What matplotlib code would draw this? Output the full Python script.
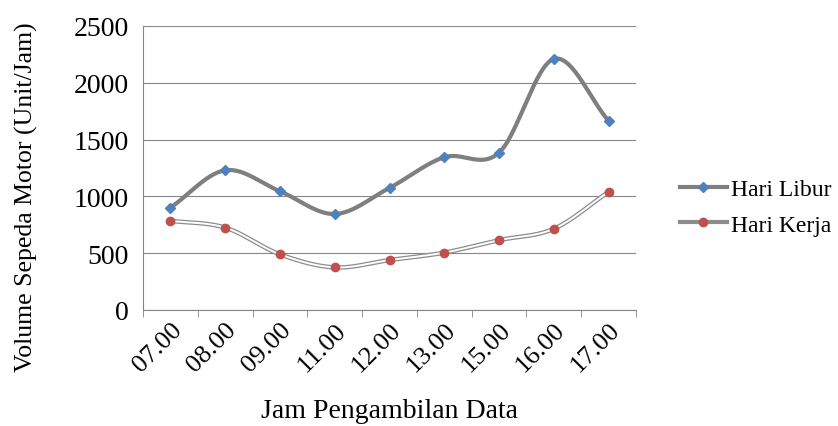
import numpy as np
import matplotlib
matplotlib.use("Agg")
import matplotlib.pyplot as plt
from matplotlib.lines import Line2D

plt.rcParams['font.family'] = ['Liberation Serif', 'DejaVu Serif']

categories = ["07.00", "08.00", "09.00", "11.00", "12.00", "13.00", "15.00", "16.00", "17.00"]
hari_libur = [900, 1230, 1045, 845, 1075, 1345, 1385, 2210, 1665]
hari_kerja = [785, 725, 490, 375, 440, 505, 615, 715, 1040]

def smooth(y, n=30):
    y = np.asarray(y, float)
    x = np.arange(len(y))
    p = np.concatenate([[2*y[0]-y[1]], y, [2*y[-1]-y[-2]]])
    xs, ys = [], []
    for i in range(len(y)-1):
        p0, p1, p2, p3 = p[i], p[i+1], p[i+2], p[i+3]
        t = np.linspace(0, 1, n, endpoint=False)
        yy = 0.5*((2*p1) + (-p0+p2)*t + (2*p0-5*p1+4*p2-p3)*t**2 + (-p0+3*p1-3*p2+p3)*t**3)
        xs.append(x[i]+t); ys.append(yy)
    xs.append([x[-1]]); ys.append([y[-1]])
    return np.concatenate(xs), np.concatenate(ys)

fig = plt.figure(figsize=(8.38, 4.27), dpi=100)
ax = fig.add_axes([143/838, 1-311/427, 493/838, 284/427])
x = np.arange(len(categories))

sx, sy = smooth(hari_libur)
ax.plot(sx, sy, color='#7f7f7f', lw=3, zorder=2)
ax.plot(x, hari_libur, ls='none', marker='D', ms=5.5, color='#4f81bd', zorder=3)

sx, sy = smooth(hari_kerja)
ax.plot(sx, sy, color='#8c8c8c', lw=3.2, zorder=2)
ax.plot(sx, sy, color='white', lw=1.4, zorder=2)
ax.plot(x, hari_kerja, ls='none', marker='o', ms=6, color='#c0504d', zorder=3)

ax.set_xlim(-0.5, len(categories)-0.5)
ax.set_ylim(0, 2500)
ax.set_yticks(range(0, 2501, 500))
ax.set_xticks(x)
ax.set_xticklabels(categories, rotation=45, ha='right', rotation_mode='anchor', fontsize=19)
ax.tick_params(axis='y', labelsize=20, length=0, pad=10)
ax.set_xticks(np.arange(-0.5, len(categories), 1), minor=True)
ax.tick_params(axis='x', which='major', length=0, pad=6)
ax.tick_params(axis='x', which='minor', length=5, color='#868686')
ax.grid(axis='y', color='#868686', lw=0.8)
ax.set_axisbelow(True)
for s in ['top', 'right']:
    ax.spines[s].set_visible(False)
ax.spines['left'].set_color('#868686')
ax.spines['bottom'].set_color('#868686')
ax.set_ylabel("Volume Sepeda Motor (Unit/Jam)", fontsize=18.5, va='center')
ax.yaxis.set_label_coords(-(143-26)/493, 0.40)
ax.set_xlabel("Jam Pengambilan Data", fontsize=20, labelpad=16)

h1 = Line2D([], [], color='#7f7f7f', lw=3, marker='D', ms=5.5, mfc='#4f81bd', mec='#4f81bd')
h2 = Line2D([], [], color='#8c8c8c', lw=3, marker='o', ms=6, mfc='#c0504d', mec='#c0504d')
fig.legend([h1, h2], ["Hari Libur", "Hari Kerja"], loc='center left',
           bbox_to_anchor=(668/838, 1-208/427), frameon=False, fontsize=17,
           handlelength=2.0, handletextpad=0.15, labelspacing=0.6, borderpad=0)
fig.savefig("out.png", dpi=100)
